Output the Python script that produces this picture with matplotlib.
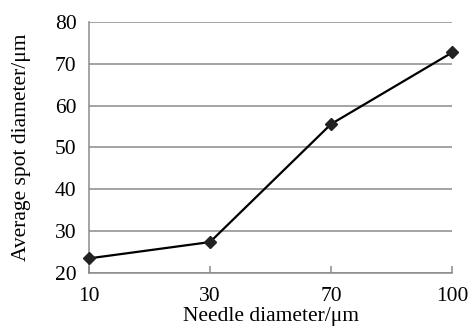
import numpy as np
import matplotlib.pyplot as plt

plt.rcParams['font.family'] = ['Liberation Serif', 'DejaVu Serif']

# data
needle = ['10', '30', '70', '100']
spot = [23.5, 27.4, 55.6, 72.7]

fig = plt.figure(figsize=(4.73, 3.27), dpi=100)
ax = fig.add_axes([0.188, 0.165, 0.768, 0.768])

x = np.arange(len(needle))
ax.plot(x, spot, color='black', lw=1.6, marker='D', ms=6,
        mfc='#222222', mec='#222222', clip_on=False, zorder=3)

ax.set_xlim(0, len(needle) - 1)
ax.set_ylim(20, 80)
ax.set_yticks(range(20, 81, 10))
ax.set_xticks(x)
ax.set_xticklabels(needle)

ax.grid(axis='y', color='#8a8a8a', lw=1.1)
ax.set_axisbelow(True)
for s in ['top', 'right']:
    ax.spines[s].set_visible(False)
for s in ['left', 'bottom']:
    ax.spines[s].set_color('#8a8a8a')
    ax.spines[s].set_linewidth(1.1)

ax.tick_params(axis='x', direction='in', length=5, width=1.1, color='#8a8a8a',
               labelsize=15.5, pad=10)
ax.tick_params(axis='y', length=0, labelsize=15.5, pad=9)

ax.set_xlabel('Needle diameter/\u03bcm', fontsize=15.5, labelpad=0.5)
ax.set_ylabel('Average spot diameter/\u03bcm', fontsize=15.5, labelpad=17)

fig.savefig('out.png', dpi=100)
